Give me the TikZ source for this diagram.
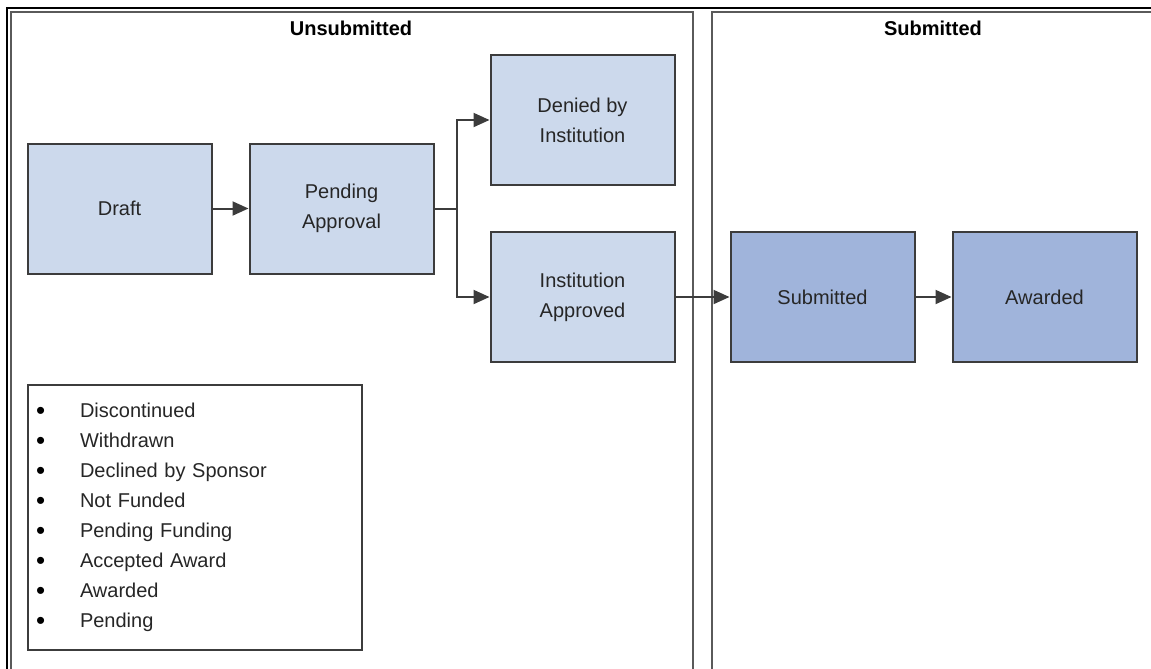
\documentclass[tikz,border=0pt]{standalone}
\usepackage{fontspec}
\setmainfont{Liberation Sans}
\usepackage{xcolor}
\usetikzlibrary{positioning,arrows.meta}
\definecolor{boxlight}{HTML}{CCD9EC}
\definecolor{boxdark}{HTML}{A0B4DB}
\definecolor{edge}{HTML}{3C3C3C}
\definecolor{panel}{HTML}{5A5A5A}
\definecolor{txt}{HTML}{262626}
\newcommand{\bul}{\makebox[22pt][l]{\raisebox{-0.8pt}{\color{black}\fontsize{13}{15}\selectfont\textbullet}}}

\begin{document}
\begin{tikzpicture}[
        x=0.5pt, y=-0.5pt,
        node distance=18pt,
        state/.style={
            rectangle,
            draw=edge,
            line width=1pt,
            fill=boxlight,
            text=txt,
            align=center,
            font=\fontsize{10}{15}\selectfont,
            minimum width=92pt,
            minimum height=65pt,
            inner sep=0pt
        },
        done/.style={
            fill=boxdark
        },
        legend/.style={
            rectangle,
            draw=edge,
            line width=0.8pt,
            text=txt,
            align=left,
            font=\fontsize{10}{15}\selectfont,
            text width=159pt,
            inner xsep=4pt,
            minimum height=132.5pt
        },
        title/.style={
            font=\fontsize{10}{12}\selectfont\bfseries,
            text=black
        },
        border/.style={
            line width=1pt,
            color=panel
        },
        arrow/.style={
            -{Triangle[length=8pt,width=7pt]},
            line width=1pt,
            color=edge
        }
    ]
        \useasboundingbox (0,0) rectangle (1151,669);

        % Frames
        \draw[line width=1pt, black] (7,669) -- (7,7.5) -- (1151,7.5);
        \draw[border] (11,669) -- (11,12) -- (693,12) -- (693,669);
        \draw[border] (712,669) -- (712,12) -- (1151,12);

        % Titles
        \node[title] (unsub) at (351,28) {Unsubmitted};
        \node[title] (sub) at (933,28) {Submitted};

        % Unsubmitted states
        \node[state] (draft) at (119.5,208.5) {Draft};
        \node[state, right=of draft] (pending) {Pending\\Approval};
        \node[state] (denied) at (582.5,120) {Denied by\\Institution};
        \node[state, below=22.5pt of denied] (approved) {Institution\\Approved};

        % Submitted states
        \node[state, done, right=27pt of approved] (submitted) {Submitted};
        \node[state, done, right=of submitted] (awarded) {Awarded};

        % List of statuses
        \node[legend] (statuses) at (195,517.5) {%
            \bul Discontinued\\
            \bul Withdrawn\\
            \bul Declined by Sponsor\\
            \bul Not Funded\\
            \bul Pending Funding\\
            \bul Accepted Award\\
            \bul Awarded\\
            \bul Pending};

        % Edges
        \draw[arrow] (draft) -- (pending);
        \draw[arrow] (pending.east) -- ++(22,0) |- (denied.west);
        \draw[arrow] (pending.east) -- ++(22,0) |- (approved.west);
        \draw[arrow] (approved) -- (submitted);
        \draw[arrow] (submitted) -- (awarded);

    \end{tikzpicture}
\end{document}
